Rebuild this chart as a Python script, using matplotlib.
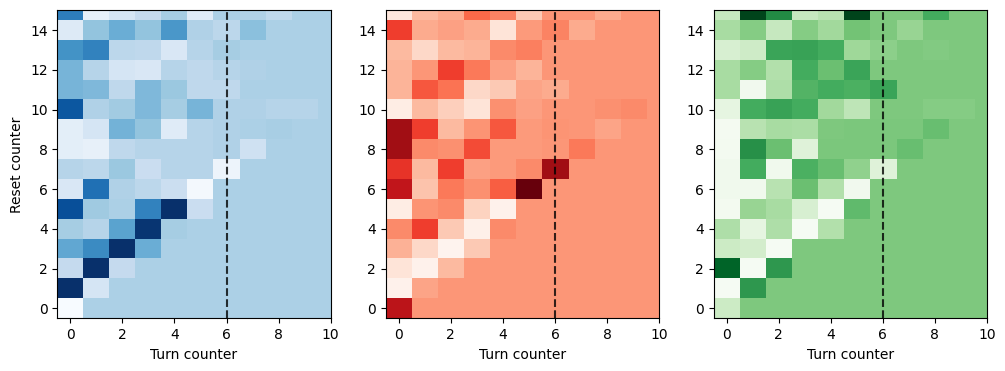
import numpy as np
import matplotlib.pyplot as plt

# rows listed from reset 15 (top) down to reset 0, columns turn 0..10
blues_rows = [
    [0.70, 0.08, 0.17, 0.25, 0.35, 0.12, 0.33, 0.32, 0.27, 0.33, 0.33],
    [0.13, 0.40, 0.50, 0.40, 0.60, 0.32, 0.28, 0.42, 0.33, 0.33, 0.33],
    [0.62, 0.68, 0.28, 0.27, 0.15, 0.30, 0.35, 0.33, 0.33, 0.33, 0.33],
    [0.47, 0.30, 0.17, 0.15, 0.30, 0.27, 0.30, 0.32, 0.33, 0.33, 0.33],
    [0.47, 0.45, 0.27, 0.45, 0.38, 0.27, 0.27, 0.33, 0.33, 0.33, 0.33],
    [0.85, 0.32, 0.36, 0.45, 0.35, 0.47, 0.32, 0.32, 0.30, 0.30, 0.33],
    [0.10, 0.17, 0.48, 0.40, 0.12, 0.30, 0.32, 0.33, 0.34, 0.33, 0.33],
    [0.10, 0.08, 0.27, 0.30, 0.30, 0.30, 0.32, 0.20, 0.33, 0.33, 0.33],
    [0.30, 0.28, 0.38, 0.23, 0.30, 0.30, 0.05, 0.33, 0.33, 0.33, 0.33],
    [0.15, 0.75, 0.32, 0.28, 0.22, 0.02, 0.33, 0.33, 0.33, 0.33, 0.33],
    [0.88, 0.37, 0.33, 0.68, 1.00, 0.23, 0.33, 0.33, 0.33, 0.33, 0.33],
    [0.35, 0.30, 0.55, 0.98, 0.35, 0.33, 0.33, 0.33, 0.33, 0.33, 0.33],
    [0.53, 0.65, 1.00, 0.50, 0.33, 0.33, 0.33, 0.33, 0.33, 0.33, 0.33],
    [0.25, 1.00, 0.25, 0.33, 0.33, 0.33, 0.33, 0.33, 0.33, 0.33, 0.33],
    [1.00, 0.17, 0.33, 0.33, 0.33, 0.33, 0.33, 0.33, 0.33, 0.33, 0.33],
    [0.00, 0.33, 0.33, 0.33, 0.33, 0.33, 0.33, 0.33, 0.33, 0.33, 0.33],
]

reds_rows = [
    [0.08, 0.25, 0.30, 0.50, 0.42, 0.20, 0.36, 0.36, 0.30, 0.36, 0.36],
    [0.62, 0.30, 0.33, 0.30, 0.10, 0.35, 0.42, 0.30, 0.36, 0.36, 0.36],
    [0.25, 0.15, 0.25, 0.27, 0.40, 0.43, 0.36, 0.36, 0.36, 0.36, 0.36],
    [0.27, 0.36, 0.62, 0.45, 0.33, 0.27, 0.36, 0.36, 0.36, 0.36, 0.36],
    [0.27, 0.55, 0.47, 0.15, 0.20, 0.32, 0.30, 0.36, 0.36, 0.36, 0.36],
    [0.05, 0.25, 0.18, 0.10, 0.38, 0.33, 0.36, 0.36, 0.38, 0.40, 0.36],
    [0.88, 0.62, 0.25, 0.37, 0.55, 0.35, 0.37, 0.36, 0.32, 0.36, 0.36],
    [0.88, 0.40, 0.38, 0.58, 0.35, 0.35, 0.36, 0.45, 0.36, 0.36, 0.36],
    [0.65, 0.25, 0.62, 0.33, 0.35, 0.40, 0.88, 0.36, 0.36, 0.36, 0.36],
    [0.78, 0.22, 0.45, 0.38, 0.53, 1.00, 0.36, 0.36, 0.36, 0.36, 0.36],
    [0.05, 0.37, 0.40, 0.17, 0.02, 0.36, 0.36, 0.36, 0.36, 0.36, 0.36],
    [0.40, 0.62, 0.20, 0.03, 0.40, 0.36, 0.36, 0.36, 0.36, 0.36, 0.36],
    [0.28, 0.15, 0.01, 0.20, 0.36, 0.36, 0.36, 0.36, 0.36, 0.36, 0.36],
    [0.10, 0.02, 0.25, 0.36, 0.36, 0.36, 0.36, 0.36, 0.36, 0.36, 0.36],
    [0.02, 0.32, 0.36, 0.36, 0.36, 0.36, 0.36, 0.36, 0.36, 0.36, 0.36],
    [0.80, 0.36, 0.36, 0.36, 0.36, 0.36, 0.36, 0.36, 0.36, 0.36, 0.36],
]

greens_rows = [
    [0.25, 1.00, 0.75, 0.25, 0.30, 1.00, 0.47, 0.47, 0.62, 0.47, 0.47],
    [0.35, 0.45, 0.25, 0.45, 0.37, 0.50, 0.47, 0.40, 0.47, 0.47, 0.47],
    [0.18, 0.22, 0.65, 0.66, 0.62, 0.38, 0.43, 0.47, 0.46, 0.47, 0.47],
    [0.35, 0.45, 0.32, 0.62, 0.52, 0.65, 0.47, 0.47, 0.47, 0.47, 0.47],
    [0.35, 0.04, 0.33, 0.58, 0.62, 0.60, 0.65, 0.47, 0.47, 0.47, 0.47],
    [0.12, 0.62, 0.66, 0.62, 0.37, 0.28, 0.47, 0.47, 0.45, 0.45, 0.47],
    [0.02, 0.30, 0.35, 0.34, 0.47, 0.48, 0.48, 0.48, 0.53, 0.47, 0.47],
    [0.03, 0.73, 0.52, 0.15, 0.48, 0.48, 0.48, 0.53, 0.47, 0.47, 0.47],
    [0.05, 0.62, 0.05, 0.60, 0.53, 0.42, 0.15, 0.47, 0.47, 0.47, 0.47],
    [0.05, 0.05, 0.30, 0.52, 0.32, 0.04, 0.47, 0.47, 0.47, 0.47, 0.47],
    [0.03, 0.40, 0.35, 0.18, 0.01, 0.55, 0.47, 0.47, 0.47, 0.47, 0.47],
    [0.33, 0.12, 0.33, 0.01, 0.32, 0.47, 0.47, 0.47, 0.47, 0.47, 0.47],
    [0.23, 0.20, 0.01, 0.47, 0.47, 0.47, 0.47, 0.47, 0.47, 0.47, 0.47],
    [0.90, 0.01, 0.70, 0.47, 0.47, 0.47, 0.47, 0.47, 0.47, 0.47, 0.47],
    [0.01, 0.70, 0.47, 0.47, 0.47, 0.47, 0.47, 0.47, 0.47, 0.47, 0.47],
    [0.23, 0.47, 0.47, 0.47, 0.47, 0.47, 0.47, 0.47, 0.47, 0.47, 0.47],
]

cut_turn = 6

panels = [(blues_rows, 'Blues'), (reds_rows, 'Reds'), (greens_rows, 'Greens')]
lefts = [0.057, 0.3838, 0.710]

fig = plt.figure(figsize=(10.05, 3.71), dpi=100)
for i, (rows, cmap) in enumerate(panels):
    ax = fig.add_axes([lefts[i], 0.142, 0.272, 0.830])
    grid = np.array(rows)[::-1]  # reset 0 at the bottom
    ax.imshow(grid, cmap=cmap, vmin=0, vmax=1, origin='lower',
              aspect='auto', interpolation='nearest')
    ax.axvline(cut_turn, color='k', linestyle='--', alpha=0.8)
    ax.set_xlim(-0.5, 10)
    ax.set_ylim(-0.5, 15)
    ax.set_xticks(range(0, 11, 2))
    ax.set_yticks(range(0, 15, 2))
    ax.set_xlabel('Turn counter')
    if i == 0:
        ax.set_ylabel('Reset counter')

fig.savefig('out.png', dpi=100)
